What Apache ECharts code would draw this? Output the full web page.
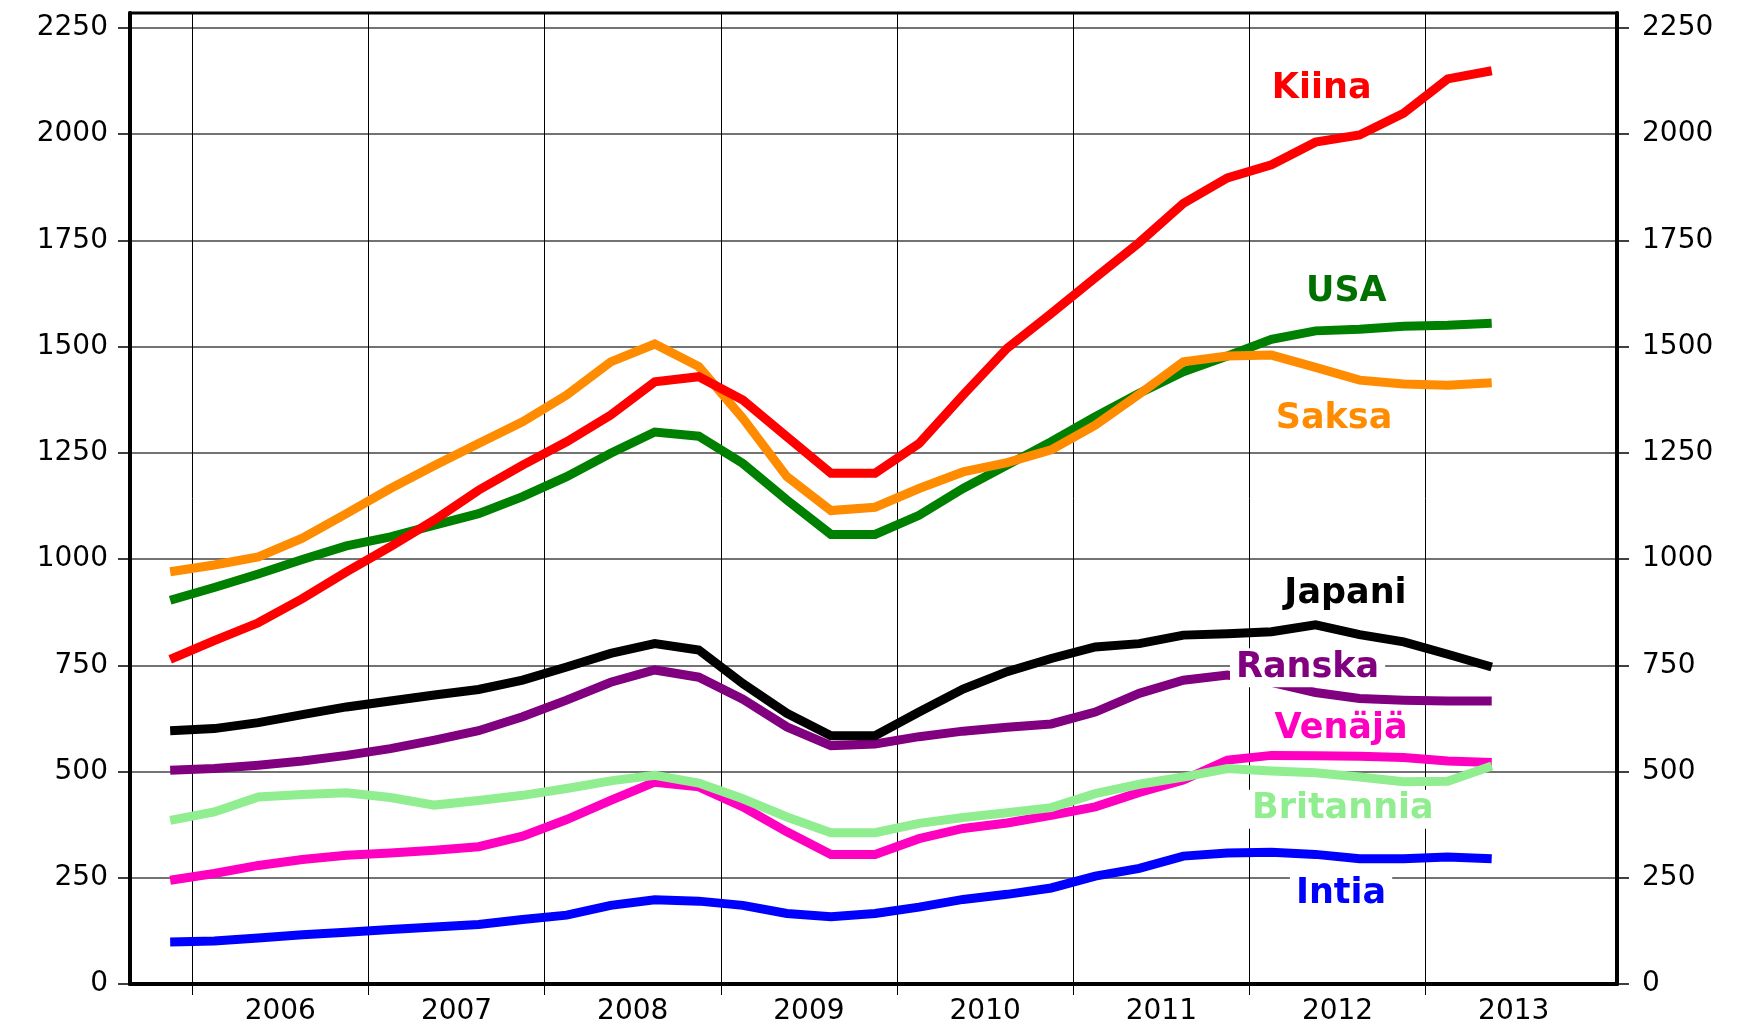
<!DOCTYPE html>
<html>
<head>
    <meta charset="utf-8">
    <title>Teollisuustuotanto</title>
    <script src="https://cdn.jsdelivr.net/npm/echarts@6.0.0/dist/echarts.min.js"></script>
    <style>html, body { margin: 0; padding: 0; background: #fff; }</style>
</head>
<body>
    <div id="chart" style="width: 1742px; height: 1024px;"></div>
    <script>
        // quarterly points, drawn at the middle of each quarter
        var quarters = ['2005Q4',
            '2006Q1', '2006Q2', '2006Q3', '2006Q4',
            '2007Q1', '2007Q2', '2007Q3', '2007Q4',
            '2008Q1', '2008Q2', '2008Q3', '2008Q4',
            '2009Q1', '2009Q2', '2009Q3', '2009Q4',
            '2010Q1', '2010Q2', '2010Q3', '2010Q4',
            '2011Q1', '2011Q2', '2011Q3', '2011Q4',
            '2012Q1', '2012Q2', '2012Q3', '2012Q4',
            '2013Q1', '2013Q2'];

        var kiina = [764, 808, 850, 907, 970, 1029, 1092, 1162, 1221, 1276, 1339, 1417, 1429, 1374, 1288, 1202,
            1202, 1272, 1386, 1496, 1578, 1662, 1745, 1837, 1897, 1928, 1981, 1998, 2049, 2130, 2149];
        var usa = [903, 933, 965, 999, 1031, 1052, 1080, 1107, 1147, 1194, 1249, 1299, 1289, 1225, 1139, 1058,
            1058, 1103, 1166, 1221, 1276, 1335, 1390, 1441, 1478, 1517, 1537, 1541, 1548, 1550, 1555];
        var saksa = [970, 986, 1005, 1049, 1107, 1166, 1220, 1272, 1323, 1386, 1464, 1506, 1453, 1331, 1194, 1114,
            1122, 1166, 1205, 1227, 1257, 1315, 1388, 1464, 1478, 1480, 1451, 1421, 1412, 1409, 1415];
        var japani = [596, 601, 615, 634, 652, 666, 680, 693, 715, 746, 778, 801, 786, 707, 637, 584,
            584, 640, 694, 735, 766, 793, 801, 821, 824, 829, 845, 822, 805, 776, 746];
        var ranska = [503, 507, 515, 525, 538, 554, 574, 596, 629, 668, 710, 739, 722, 670, 605, 561,
            565, 582, 595, 604, 612, 640, 684, 715, 727, 710, 686, 672, 668, 666, 666];
        var venaja = [244, 260, 279, 293, 303, 308, 315, 323, 348, 387, 432, 475, 464, 417, 358, 305,
            305, 342, 366, 379, 397, 417, 451, 480, 527, 538, 537, 536, 533, 525, 521];
        var britannia = [385, 405, 440, 446, 450, 439, 421, 432, 444, 460, 478, 491, 473, 436, 393, 356,
            356, 378, 392, 403, 415, 448, 470, 487, 507, 501, 497, 487, 476, 477, 513];
        var intia = [99, 101, 108, 116, 122, 128, 134, 140, 152, 162, 185, 198, 195, 185, 166, 158,
            166, 181, 199, 211, 226, 254, 272, 301, 308, 310, 305, 295, 295, 299, 295];

        var years = [2006, 2007, 2008, 2009, 2010, 2011, 2012, 2013];
        var yTicks = [0, 250, 500, 750, 1000, 1250, 1500, 1750, 2000, 2250];

        // visible x range (in years) and y range
        var xMin = 2005.647, xMax = 2014.086;
        var yMax = 2285;

        // where the series names sit, in data units
        var nameAt = {
            'Kiina': [2012.41, 2107],
            'USA': [2012.55, 1628],
            'Saksa': [2012.48, 1329],
            'Japani': [2012.545, 917],
            'Ranska': [2012.33, 744],
            'Venäjä': [2012.52, 600],
            'Britannia': [2012.53, 411],
            'Intia': [2012.52, 211]
        };

        function quarterX(q) {
            return +q.slice(0, 4) + (+q.slice(5) - 0.5) / 4;
        }

        // year label sits in the middle of the visible part of its year
        var yearLabelAt = years.map(function (y) {
            return (y + Math.min(y + 1, xMax)) / 2;
        });

        var font = 'DejaVu Sans';
        var chart = echarts.init(document.querySelector('#chart'));

        function makeSeries(name, values, color, labelColor) {
            return {
                name: name,
                type: 'line',
                data: quarters.map(function (q, i) { return [quarterX(q), values[i]]; }),
                symbol: 'none',
                lineStyle: { color: color, width: 9, join: 'miter', cap: 'butt' },
                emphasis: { disabled: true },
                markPoint: {
                    symbol: 'rect',
                    symbolSize: 1,
                    itemStyle: { color: 'rgba(0,0,0,0)' },
                    label: {
                        show: true,
                        position: 'inside',
                        formatter: name,
                        color: labelColor || color,
                        fontFamily: font,
                        fontSize: 35,
                        fontWeight: 'bold',
                        backgroundColor: '#fff',
                        padding: [2, 6]
                    },
                    data: [{ coord: nameAt[name] }]
                }
            };
        }

        var yLabel = {
            fontFamily: font, fontSize: 28, color: '#000', customValues: yTicks,
            formatter: function (v) { return String(v); }
        };

        var option = {
            animation: false,
            backgroundColor: '#fff',
            grid: {
                left: 130, right: 125, top: 13, bottom: 40,
                containLabel: false,
                outerBoundsMode: 'none',
                show: true,
                borderColor: '#000',
                borderWidth: 3
            },
            xAxis: {
                type: 'value',
                min: xMin,
                max: xMax,
                axisLine: { show: true, lineStyle: { color: '#000', width: 4 } },
                axisTick: { show: true, customValues: years, length: 11, lineStyle: { color: '#000', width: 1 } },
                splitLine: { show: true, lineStyle: { color: '#000', width: 1 } },
                axisLabel: {
                    customValues: yearLabelAt,
                    formatter: function (v) { return String(Math.floor(v)); },
                    fontFamily: font, fontSize: 28, color: '#000', margin: 14
                }
            },
            yAxis: [
                {
                    type: 'value',
                    position: 'left',
                    min: 0, max: yMax,
                    axisLine: { show: true, lineStyle: { color: '#000', width: 4 } },
                    axisTick: { show: true, customValues: yTicks, length: 12, lineStyle: { color: '#000', width: 1.5 } },
                    splitLine: { show: true, lineStyle: { color: '#444', width: 1.5 } },
                    axisLabel: Object.assign({ margin: 22 }, yLabel)
                },
                {
                    type: 'value',
                    position: 'right',
                    min: 0, max: yMax,
                    axisLine: { show: true, lineStyle: { color: '#000', width: 4 } },
                    axisTick: { show: true, customValues: yTicks, length: 12, lineStyle: { color: '#000', width: 1.5 } },
                    splitLine: { show: false },
                    axisLabel: Object.assign({ margin: 25 }, yLabel)
                }
            ],
            series: [
                makeSeries('Intia', intia, '#0000ff'),
                makeSeries('Venäjä', venaja, '#ff00c0'),
                makeSeries('Britannia', britannia, '#90ee90'),
                makeSeries('Ranska', ranska, '#800080'),
                makeSeries('Japani', japani, '#000000'),
                makeSeries('USA', usa, '#008000', '#007000'),
                makeSeries('Saksa', saksa, '#ff8c00'),
                makeSeries('Kiina', kiina, '#ff0000')
            ]
        };
        chart.setOption(option);
    </script>
</body>
</html>
